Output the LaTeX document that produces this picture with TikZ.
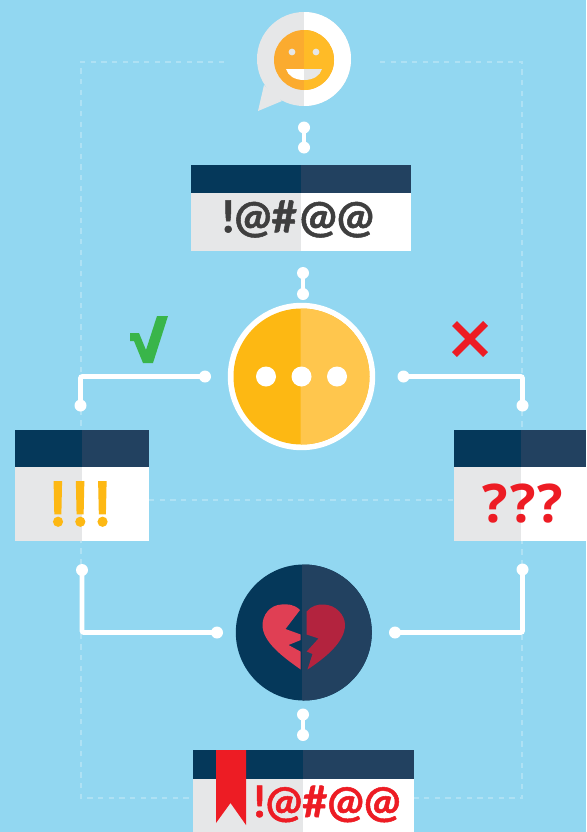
\documentclass[tikz,border=0pt]{standalone}
\usepackage{fontspec}
\setmainfont{Lato}
\newfontfamily\labelfont[BoldFeatures={FakeBold=1.2}]{Lato}
\newfontfamily\qfont[LetterSpace=4]{Open Sans}
\newfontfamily\warnfont[FakeBold=4]{Poppins}
\definecolor{bgblue}{HTML}{92D7F1}
\definecolor{dashblue}{HTML}{AEE1F4}
\definecolor{navyA}{HTML}{05385A}
\definecolor{navyB}{HTML}{224160}
\definecolor{paneA}{HTML}{E6E7E8}
\definecolor{inkgrey}{HTML}{3F3F3F}
\definecolor{amberA}{HTML}{FDB813}
\definecolor{amberB}{HTML}{FFC64D}
\definecolor{faceA}{HTML}{FBAB2F}
\definecolor{faceB}{HTML}{FFBB27}
\definecolor{redmark}{HTML}{ED1C24}
\definecolor{greenmark}{HTML}{39B54A}
\definecolor{heartA}{HTML}{E03F54}
\definecolor{heartB}{HTML}{B3233E}
\newcommand{\panelbox}[6]{% x1,y1,x2,ysplit,y2,xsplit
  \fill[paneA] (#1,#4) rectangle (#6,#5);
  \fill[white] (#6,#4) rectangle (#3,#5);
  \fill[navyA] (#1,#2) rectangle (#6,#4);
  \fill[navyB] (#6,#2) rectangle (#3,#4);
}
\newcommand{\splitdisc}[6]{% cx,cy,r,xsplit,leftcolour,rightcolour
  \fill[#5] (#1,#2) circle[radius=#3];
  \begin{scope}
    \clip (#4,0) rectangle (586,832);
    \fill[#6] (#1,#2) circle[radius=#3];
  \end{scope}
}
\begin{document}
\begin{tikzpicture}[x=0.75pt,y=-0.75pt,
  dotnode/.style={circle,fill=white,inner sep=0pt,minimum size=9pt},
  wire/.style={draw=white,line width=3.7pt,rounded corners=1.5pt},
  guide/.style={draw=dashblue,line width=2pt,dash pattern=on 4.1pt off 3.9pt},
  txt/.style={inner sep=0pt,anchor=center}]
\useasboundingbox (0,0) rectangle (586,832);
\fill[bgblue] (0,0) rectangle (586,832);
% dashed frame
\draw[guide] (224,62) -- (81,62) -- (81,798) -- (193,798);
\draw[guide] (380,62) -- (522,62) -- (522,798) -- (414,798);
\draw[guide] (149,500) -- (454,500);
% speech bubble
\fill[paneA] (264,85) -- (258,111) -- (282,101) -- cycle;
\splitdisc{304}{59}{47}{304}{paneA}{white}
% smiley
\splitdisc{304}{60}{30}{304}{faceA}{faceB}
\fill[paneA] (292,52) circle[radius=3.4];
\fill[paneA] (316,52) circle[radius=3.4];
\fill[white] (286,69) -- (304,69) -- (304,80) .. controls (295,80) and (288,76) .. (286,69) -- cycle;
\fill[paneA] (322,69) -- (304,69) -- (304,80) .. controls (313,80) and (320,76) .. (322,69) -- cycle;
% top panel
\panelbox{191}{165}{411}{193}{251}{301}
\node[txt,text=inkgrey,font=\labelfont\bfseries\fontsize{33pt}{33pt}\selectfont] (toptext) at (298,219) {!@\#\kern2pt@@};
% main circle
\fill[white] (301.5,376.5) circle[radius=73.7];
\splitdisc{301.5}{376.5}{68}{300.5}{amberA}{amberB}
\fill[white] (266,376.5) circle[radius=10];
\fill[white] (301.5,376.5) circle[radius=10];
\fill[white] (337,376.5) circle[radius=10];
% marks
\fill[greenmark] (130,333) -- (139,333) -- (146,350) -- (157,316) -- (168,316) -- (153,363) -- (143,363) -- (134,341) -- (130,341) -- cycle;
\draw[redmark,line width=5.2pt] (454.5,323.5) -- (485.5,354.5) (485.5,323.5) -- (454.5,354.5);
% side panels
\panelbox{15}{430}{149}{467}{541}{82}
\panelbox{454}{430}{586}{467}{541}{521}
\node[txt,text=amberA,font=\warnfont\fontsize{46pt}{46pt}\selectfont] (warn) at (80.3,504) {!\kern3pt!\kern3pt!};
\node[txt,text=redmark,font=\qfont\bfseries\fontsize{40pt}{40pt}\selectfont] (quest) at (523,504) {???};
% broken-heart circle
\splitdisc{303.8}{632.5}{68}{302}{navyA}{navyB}
\fill[heartA] (300,610) .. controls (294,604) and (287,604) .. (281.5,604.5)
  .. controls (270,605) and (262.5,615) .. (262.5,625)
  .. controls (262.5,642) and (283,657) .. (300.7,669.5)
  -- (300.7,651.7) -- (288.5,645) -- (300.7,640) -- (300.7,634.5) -- (285.5,629) -- cycle;
\fill[heartB] (306.7,611.5) .. controls (311,606) and (318,604) .. (324,604.5)
  .. controls (336,605) and (345,615) .. (345,625)
  .. controls (345,642) and (325,658) .. (307.5,669.5)
  -- (312.5,654) -- (306.7,651.5) -- (318.5,638.5) -- (306.7,634.5) -- cycle;
% bottom panel
\panelbox{193}{750}{414}{779}{832}{303}
\fill[redmark] (216,750) -- (246,750) -- (246,825) -- (230.5,803) -- (216,823) -- cycle;
\node[txt,text=redmark,font=\labelfont\bfseries\fontsize{32.5pt}{32.5pt}\selectfont] (bottext) at (327,804) {!@\#@@};
% connectors
\node[dotnode] (a1) at (304,127.5) {};
\node[dotnode] (a2) at (304,147.5) {};
\draw[wire] (a1.center) -- (a2.center);
\node[dotnode] (b1) at (303,273) {};
\node[dotnode] (b2) at (303,294) {};
\draw[wire] (b1.center) -- (b2.center);
\node[dotnode] (c1) at (205,376.5) {};
\node[dotnode] (c2) at (80.5,405.5) {};
\draw[wire] (c1.center) -| (c2.center);
\node[dotnode] (d1) at (403.5,376.5) {};
\node[dotnode] (d2) at (522.5,405.5) {};
\draw[wire] (d1.center) -| (d2.center);
\node[dotnode] (e1) at (82,570) {};
\node[dotnode] (e2) at (217,632.5) {};
\draw[wire] (e1.center) |- (e2.center);
\node[dotnode] (f1) at (522.5,569.5) {};
\node[dotnode] (f2) at (395,632.5) {};
\draw[wire] (f1.center) |- (f2.center);
\node[dotnode] (g1) at (303,714.5) {};
\node[dotnode] (g2) at (303,735) {};
\draw[wire] (g1.center) -- (g2.center);
\end{tikzpicture}
\end{document}
